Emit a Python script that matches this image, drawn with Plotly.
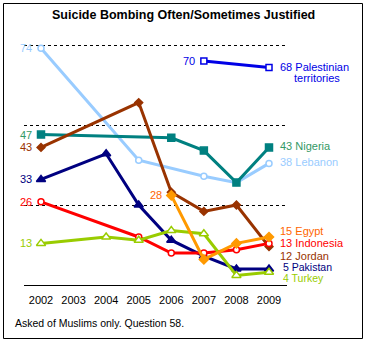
import plotly.graph_objects as go

years = [2002, 2003, 2004, 2005, 2006, 2007, 2008, 2009]
tick_labels = ["2002", "2003", "2004", "2005", "2006", "2007", "2008", "2009"]

pal_years = [2007, 2009]
pal_vals = [70, 68]
leb_years = [2002, 2005, 2007, 2008, 2009]
leb_vals = [74, 39, 34, 32, 38]
nig_years = [2002, 2006, 2007, 2008, 2009]
nig_vals = [47, 46, 42, 32, 43]
jor_years = [2002, 2005, 2006, 2007, 2008, 2009]
jor_vals = [43, 57, 29, 23, 25, 12]
pak_years = [2002, 2004, 2005, 2006, 2007, 2008, 2009]
pak_vals = [33, 41, 25, 14, 9, 5, 5]
ind_years = [2002, 2005, 2006, 2007, 2008, 2009]
ind_vals = [26, 15, 10, 10, 11, 13]
egy_years = [2006, 2007, 2008, 2009]
egy_vals = [28, 8, 13, 15]
tur_years = [2002, 2004, 2005, 2006, 2007, 2008, 2009]
tur_vals = [13, 15, 14, 17, 16, 3, 4]

FONT = "Liberation Sans, Arial, sans-serif"

# plot area pixel geometry
L, R, T, B = 24, 287, 29, 285
W, H = 366, 342
pw, ph = R - L, B - T

def px(x):
    return (x - L) / pw

def py(y):
    return (B - y) / ph

series = [
    # name, xs, ys, line color, label color, marker symbol, filled, size, right label, label yshift
    ("Lebanon", leb_years, leb_vals, "#99CCFF", "#99CCFF", "circle", False, 6, "Lebanon", 1),
    ("Nigeria", nig_years, nig_vals, "#008080", "#339966", "square", True, 7, "Nigeria", 1),
    ("Jordan", jor_years, jor_vals, "#993300", "#993300", "diamond", True, 6, "Jordan", -9),
    ("Pakistan", pak_years, pak_vals, "#000080", "#000080", "triangle-up", True, 8, "Pakistan", 2),
    ("Indonesia", ind_years, ind_vals, "#FF0000", "#FF0000", "circle", False, 6, "Indonesia", 0),
    ("Turkey", tur_years, tur_vals, "#99CC00", "#99CC00", "triangle-up", False, 8, "Turkey", -6),
    ("Egypt", egy_years, egy_vals, "#FF9900", "#FF6600", "diamond", True, 7, "Egypt", 6),
    ("Palestinian", pal_years, pal_vals, "#0000E6", "#0000E6", "square", False, 6, "Palestinian", 0),
]

fig = go.Figure()
annotations = []
for name, xs, ys, col, lcol, sym, filled, size, rlab, rshift in series:
    fig.add_trace(go.Scatter(
        x=xs, y=ys, mode="lines+markers", name=name,
        line=dict(color=col, width=3),
        marker=dict(symbol=sym, size=size,
                    color=col if filled else "white",
                    line=dict(color=col, width=1.5)),
        showlegend=False, hoverinfo="skip"))
    small = name in ("Pakistan", "Turkey")
    xoff = 12 if small else 9
    annotations.append(dict(x=xs[-1], y=ys[-1], xref="x", yref="y",
                            text=f"{ys[-1]} {rlab}", showarrow=False,
                            xanchor="left", yanchor="middle",
                            xshift=xoff, yshift=rshift,
                            font=dict(family=FONT, size=10.5 if small else 11, color=lcol)))
    annotations.append(dict(x=xs[0], y=ys[0], xref="x", yref="y",
                            text=f"{ys[0]}", showarrow=False,
                            xanchor="right", yanchor="middle",
                            xshift=-7, yshift=0,
                            font=dict(family=FONT, size=11, color=lcol)))

annotations.append(dict(x=pal_years[-1], y=pal_vals[-1], xref="x", yref="y",
                        text="territories", showarrow=False,
                        xanchor="left", yanchor="middle",
                        xshift=23, yshift=-11,
                        font=dict(family=FONT, size=11, color="#0000E6")))

annotations.append(dict(x=px(183), y=py(15), xref="paper", yref="paper",
                        text="<b>Suicide Bombing Often/Sometimes Justified</b>",
                        showarrow=False, xanchor="center", yanchor="middle",
                        font=dict(family=FONT, size=12.5, color="black")))
annotations.append(dict(x=px(13), y=py(323), xref="paper", yref="paper",
                        text="Asked of Muslims only. Question 58.",
                        showarrow=False, xanchor="left", yanchor="middle",
                        font=dict(family=FONT, size=10.5, color="black")))

fig.update_layout(
    width=W, height=H,
    margin=dict(l=L, r=W - R, t=T, b=H - B, pad=0),
    paper_bgcolor="white", plot_bgcolor="white",
    annotations=annotations,
    shapes=[dict(type="rect", xref="paper", yref="paper",
                 x0=px(3.5), x1=px(362.5), y0=py(338.5), y1=py(3.5),
                 line=dict(color="black", width=1), layer="above")],
    xaxis=dict(range=[2002 - 17 / 32.57, 2009 + 18 / 32.57],
               tickvals=years, ticktext=tick_labels,
               showgrid=False, zeroline=False, showline=True,
               linecolor="black", linewidth=1, ticks="",
               ticklabelstandoff=5,
               tickfont=dict(family=FONT, size=11, color="black")),
    yaxis=dict(range=[0, 80], tickvals=[25, 50, 75], showticklabels=False,
               showgrid=True, gridcolor="black", griddash="3px,3px", gridwidth=1,
               zeroline=False, showline=False, ticks=""),
)

fig.write_html("out.html")
